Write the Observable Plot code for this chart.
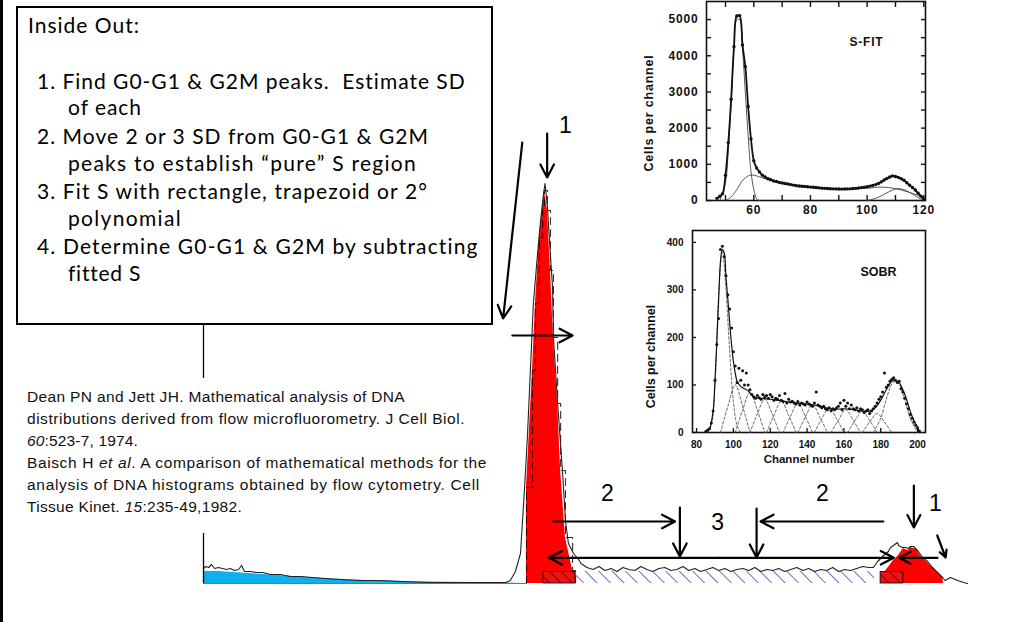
<!DOCTYPE html>
<html><head><meta charset="utf-8">
<script src="https://cdn.jsdelivr.net/npm/d3@7"></script>
<script src="https://cdn.jsdelivr.net/npm/@observablehq/plot@0.6"></script>
<style>
html,body{margin:0;padding:0;background:#fff;}
#root{position:relative;width:1011px;height:622px;overflow:hidden;background:#fff;}
.abs{position:absolute;}
#leftbar{left:0;top:0;width:3px;height:622px;background:#000;}
#box{left:16px;top:6px;width:477px;height:319px;border:2px solid #000;box-sizing:border-box;}
.bl{position:absolute;white-space:pre;font-family:Lato,"Open Sans",sans-serif;font-size:21px;color:#000;line-height:1;}
.cl{position:absolute;white-space:pre;font-family:"Liberation Sans",Arial,sans-serif;font-size:15.5px;color:#111;line-height:1;}
</style></head>
<body>
<div id="root">
  <div id="main" class="abs" style="left:0;top:0"></div>
  <div id="sfit" class="abs" style="left:630px;top:0"></div>
  <div id="sobr" class="abs" style="left:630px;top:225px"></div>
  <div id="leftbar" class="abs"></div>
  <div id="box" class="abs"></div>
  <div id="texts"></div>
</div>
<script>
// ---------- MAIN HISTOGRAM DATA (channel, cells) ----------
const debrisArea = [[0,12],[5,12],[10,11],[15,10],[20,9],[25,8],[30,7],[40,5],[50,3.5],[60,2.5],[75,1.5],[90,1],[102,0.5],[106,0]];
const outline = [[0,15],[0.7,17],[1.7,16],[2.7,19],[3.7,15],[5,16],[6.3,15],[7.7,14],[9,15],[10.3,13],[11.7,14],[12.7,18],[13.7,12],[15.7,12],[17.7,11],[19.7,11],[22.4,9],[25.7,9],[29,7],[32.4,7],[36.4,6],[40.7,5],[45.7,4],[52.4,3],[59,3],[65.8,2],[75.8,1],[85.8,1],[95.8,1],[100.8,1],[102.4,3],[104.1,12],[105.8,30],[107.1,93],[108.1,146],[109.1,213],[110.1,280],[111.5,330],[112.5,363],[113.5,390],[114,400],[114.8,376],[115.2,356],[116.5,296],[116.8,246],[118.2,180],[119.8,113],[120.8,63],[121.8,40],[123.5,30],[125.2,24],[126,20],[128,16],[130,14],[132,17],[134,13],[136,15],[138,12],[140,16],[142,14],[144,13],[146,17],[148,14],[150,12],[152,15],[154,16],[156,13],[158,14],[160,17],[162,13],[164,15],[166,12],[168,14],[170,16],[172,13],[174,15],[176,12],[178,14],[180,15],[182,13],[184,16],[186,12],[188,14],[190,13],[192,15],[194,12],[196,14],[198,16],[200,13],[202,15],[204,12],[206,14],[208,13],[210,16],[212,12],[214,14],[216,13],[218,15],[220,17],[222,16],[223.6,16],[225,22],[227,28],[228.6,32],[229.3,36],[230.3,38],[231.6,41],[232,38],[233.3,36],[234.3,36],[235.3,35],[236,37],[237,37],[238.6,32],[240,26],[241.7,22],[243.3,16],[245,11],[246.7,6],[247.5,3],[249.3,6],[251.7,3],[253.7,1],[255,0]];
const g1Fill = [[107.8,0],[107.8,96],[109.8,213],[110.8,280],[112.1,346],[113.2,376],[113.8,393],[114.8,373],[115.8,313],[116.8,246],[118.2,180],[119.2,113],[120.8,46],[123.2,13],[124.2,1]];
const g2Fill = [[226,0],[226,3],[227,10],[228.6,16],[230.3,23],[232,28],[233.6,35],[234.3,34],[235.3,33],[236,36],[237,35],[238,34],[238.6,31],[240,25],[241.7,21],[243.3,16],[245,11],[246.7,6],[247,0]];
const sRegion = [{x1:124.2, x2:224, y1:0, y2:12}];
const peakBoxes = [{x1:113.5, x2:124.2, y1:0, y2:11.5},{x1:226, x2:233.6, y1:0, y2:11.5}];
const axisSegments = [{y1:0, y2:50},{y1:205, y2:259}];
const arrows = [
  {x1:106.4, y1:441, x2:100.0, y2:265},
  {x1:114.7, y1:450, x2:114.7, y2:406},
  {x1:103.1, y1:248, x2:123.2, y2:248},
  {x1:116.7, y1:62, x2:157.4, y2:62},
  {x1:159.0, y1:76, x2:159.0, y2:27},
  {x1:184.6, y1:75, x2:184.6, y2:26},
  {x1:226.9, y1:62, x2:185.9, y2:62},
  {x1:172.0, y1:25.7, x2:115.3, y2:25.7},
  {x1:172.0, y1:25.7, x2:230.4, y2:25.7},
  {x1:245.0, y1:25.7, x2:232.2, y2:25.7},
  {x1:237.1, y1:98, x2:237.1, y2:56},
  {x1:244.9, y1:48, x2:247.7, y2:26}
];
const stepLabels = [
  {x:120.8, y:458, t:"1"},
  {x:134.8, y:90, t:"2"},
  {x:206.6, y:90, t:"2"},
  {x:171.6, y:61, t:"3"},
  {x:244.3, y:80, t:"1"}
];

// ---------- S-FIT INSET DATA ----------
const sfitObs = [[47,60],[48,120],[49,190],[50,700],[51,1600],[52,2800],[53,4250],[54,5100],[55,5110],[56,4300],[57,3700],[58,2600],[59,1700],[60,1100],[61,900],[62,790],[63,700],[64,650],[65,600],[66,575],[67,540],[68,525],[69,500],[70,485],[71,470],[72,455],[73,440],[74,425],[75,410],[76,400],[77,392],[78,385],[79,378],[80,370],[81,365],[82,358],[83,350],[84,342],[85,336],[86,330],[87,326],[88,322],[89,320],[90,318],[91,315],[92,318],[93,320],[94,322],[95,330],[96,336],[97,345],[98,356],[99,368],[100,380],[101,398],[102,418],[103,440],[104,470],[105,515],[106,565],[107,610],[108,650],[109,680],[110,665],[111,640],[112,600],[113,560],[114,490],[115,420],[116,360],[117,290],[118,200],[119,120],[120,40]];
const sfitG1 = [[48,0],[50,500],[51,1400],[52,2700],[53,4200],[54,5000],[55,5000],[56,4200],[57,3000],[58,1800],[59,800],[60,300],[61,50],[62,0]];
const sfitS = [[50,0],[52,100],[54,300],[56,550],[58,680],[60,700],[62,650],[64,600],[66,560],[70,490],[80,370],[90,318],[100,340],[105,370],[110,330],[115,220],[120,90]];
const sfitG2 = [[100,0],[103,60],[106,170],[109,290],[111,330],[113,300],[116,180],[118,80],[120,10]];
const sfitYLabels = [0,1000,2000,3000,4000,5000];
const sfitYTicks = [0,500,1000,1500,2000,2500,3000,3500,4000,4500,5000];
const sfitXLabels = [60,80,100,120];
const sfitXTicks = [50,60,70,80,90,100,110,120];

// ---------- SOBR INSET DATA ----------
const sobrObs = [[85,2],[86,5],[87,8],[88,20],[89,45],[90,110],[91,185],[92,240],[93,385],[94,392],[95,370],[96,330],[97,290],[98,260],[99,220],[100,170],[101,140],[102,105],[103,135],[104,110],[105,130],[106,100],[107,125],[108,100],[109,90],[110,80],[111,75],[112,72],[113,78],[114,73],[115,70],[116,80],[117,75],[118,78],[119,72],[120,80],[121,75],[122,68],[123,72],[124,70],[125,78],[126,68],[127,65],[128,82],[129,62],[130,70],[131,64],[132,66],[133,62],[134,60],[135,65],[136,58],[137,62],[138,60],[139,58],[140,64],[141,60],[142,58],[143,55],[144,62],[145,85],[146,58],[147,55],[148,52],[149,55],[150,50],[151,48],[152,52],[153,46],[154,50],[155,48],[156,52],[157,55],[158,62],[159,48],[160,68],[161,55],[162,62],[163,50],[164,58],[165,50],[166,48],[167,52],[168,45],[169,50],[170,48],[171,42],[172,45],[173,48],[174,40],[175,45],[176,50],[177,55],[178,62],[179,70],[180,75],[181,85],[182,125],[183,95],[184,100],[185,108],[186,112],[187,115],[188,110],[189,105],[190,108],[191,92],[192,85],[193,72],[194,60],[195,50],[196,38],[197,30],[198,22],[199,15],[200,10],[201,3]];
const sobrFit = [[85,0],[87,8],[89,45],[90,110],[91,190],[92,280],[93,360],[94,385],[95,378],[96,325],[97,280],[98,230],[99,185],[100,150],[101,125],[102,108],[104,97],[106,92],[108,88],[110,78],[112,73],[115,72],[120,70],[125,67],[130,64],[135,62],[140,60],[145,57],[150,52],[155,49],[160,50],[165,48],[170,45],[174,45],[177,52],[180,68],[183,90],[186,108],[188,110],[190,105],[192,90],[194,70],[196,45],[198,25],[200,10],[201,0]];
const sobrComponents = [
  ["g1",[[86,0],[88,15],[90,100],[92,290],[94,383],[96,300],[98,170],[100,65],[102,15],[104,0]]],
  ["s1",[[93,0],[97,55],[101,100],[105,55],[109,0]]],
  ["s2",[[101,0],[105,47],[109,85],[113,47],[117,0]]],
  ["s3",[[109,0],[113,39],[117,70],[121,39],[125,0]]],
  ["s4",[[118,0],[122,36],[126,66],[130,36],[134,0]]],
  ["s5",[[127,0],[131,34],[135,62],[139,34],[143,0]]],
  ["s6",[[135,0],[139,32],[143,58],[147,32],[151,0]]],
  ["s7",[[144,0],[148,29],[152,52],[156,29],[160,0]]],
  ["s8",[[153,0],[157,26],[161,48],[165,26],[169,0]]],
  ["s9",[[162,0],[166,25],[170,45],[174,25],[178,0]]],
  ["s10",[[170,0],[174,22],[178,40],[182,22],[186,0]]],
  ["g2",[[176,0],[180,30],[183,70],[186,102],[188,108],[190,102],[193,70],[196,30],[200,0]]]
];
const sobrYLabels = [0,100,200,300,400];
const sobrXLabels = [80,100,120,140,160,180,200];

const X = d => d[0], Y = d => d[1];
const plain = d => String(d);

// ---------- MAIN PLOT ----------
const main = Plot.plot({
  width: 1011, height: 622,
  marginLeft: 203, marginRight: 41, marginTop: 83, marginBottom: 39,
  x: {domain: [0, 256], axis: null},
  y: {domain: [0, 500], axis: null},
  style: {background: "transparent", overflow: "visible", fontFamily: "'Liberation Sans', Arial, sans-serif"},
  marks: [
    Plot.areaY(debrisArea, {x: X, y: Y, fill: "#0fb0ef"}),
    Plot.rect(sRegion, {x1: "x1", x2: "x2", y1: "y1", y2: "y2", fill: "url(#hatchBlue)"}),
    Plot.areaY(g1Fill, {x: X, y: Y, fill: "#ff0000"}),
    Plot.areaY(g2Fill, {x: X, y: Y, fill: "#ff0000"}),
    Plot.line(g1Fill, {x: X, y: Y, curve: "step-after", stroke: "#200", strokeWidth: 1.1, strokeDasharray: "7,5", strokeOpacity: 0.85}),
    Plot.rect(peakBoxes, {x1: "x1", x2: "x2", y1: "y1", y2: "y2", fill: "url(#hatchRed)", stroke: "#111", strokeWidth: 0.9}),
    Plot.ruleY([0], {x1: 0, x2: 108, stroke: "#3a8c9c", strokeWidth: 1.2}),
    Plot.line(outline, {x: X, y: Y, stroke: "#222", strokeWidth: 1.1}),
    Plot.ruleX(axisSegments, {x: 0, y1: "y1", y2: "y2", stroke: "#000", strokeWidth: 1.3}),
    Plot.arrow(arrows, {x1: "x1", y1: "y1", x2: "x2", y2: "y2", stroke: "#000", strokeWidth: 2.2, headLength: 10, headAngle: 55}),
    Plot.text(stepLabels, {x: "x", y: "y", text: "t", fontSize: 23, fill: "#000"})
  ]
});
document.getElementById("main").appendChild(main);
const defs = document.createElementNS("http://www.w3.org/2000/svg", "defs");
defs.innerHTML = `
<pattern id="hatchBlue" patternUnits="userSpaceOnUse" width="9.5" height="9.5" patternTransform="rotate(-45)">
  <rect width="9.5" height="9.5" fill="#fff"/>
  <line x1="0" y1="0" x2="0" y2="9.5" stroke="#4a4ad0" stroke-width="1.6"/>
</pattern>
<pattern id="hatchRed" patternUnits="userSpaceOnUse" width="8" height="8" patternTransform="rotate(-45)">
  <rect width="8" height="8" fill="#ee1111"/>
  <line x1="0" y1="0" x2="0" y2="8" stroke="#6a0000" stroke-width="1.6"/>
</pattern>`;
main.insertBefore(defs, main.firstChild);

// ---------- S-FIT ----------
const insetStyle = {background: "transparent", overflow: "visible", fontFamily: "'Liberation Sans', Arial, sans-serif", fontWeight: "bold", color: "#111"};
const sfit = Plot.plot({
  width: 300, height: 220, marginLeft: 76, marginRight: 5, marginTop: 1, marginBottom: 20,
  x: {domain: [43.3, 120.6]}, y: {domain: [0, 5500]},
  style: {...insetStyle, fontSize: "12px", letterSpacing: "0.8px"},
  marks: [
    Plot.axisY(sfitYLabels, {anchor: "left", tickSize: 0, tickPadding: 8, label: null, fontSize: 12, tickFormat: plain}),
    Plot.axisY(sfitYTicks, {anchor: "left", tickSize: -5, tickFormat: () => "", label: null, strokeWidth: 1.4}),
    Plot.axisY(sfitYTicks, {anchor: "right", tickSize: -5, tickFormat: () => "", label: null, strokeWidth: 1.4}),
    Plot.axisX(sfitXLabels, {anchor: "bottom", tickSize: 0, tickPadding: 5, label: null, fontSize: 12, tickFormat: plain}),
    Plot.axisX(sfitXTicks, {anchor: "bottom", tickSize: -5, tickFormat: () => "", label: null, strokeWidth: 1.4}),
    Plot.axisX(sfitXTicks, {anchor: "top", tickSize: -5, tickFormat: () => "", label: null, strokeWidth: 1.4}),
    Plot.frame({stroke: "#111", strokeWidth: 1.6}),
    Plot.line(sfitG1, {x: X, y: Y, stroke: "#444", strokeWidth: 0.9, curve: "catmull-rom"}),
    Plot.line(sfitS, {x: X, y: Y, stroke: "#444", strokeWidth: 0.9, curve: "catmull-rom"}),
    Plot.line(sfitG2, {x: X, y: Y, stroke: "#444", strokeWidth: 0.9, curve: "catmull-rom"}),
    Plot.line(sfitObs, {x: X, y: Y, stroke: "#111", strokeWidth: 1.8, curve: "catmull-rom"}),
    Plot.dot(sfitObs, {x: X, y: Y, r: 1.7, fill: "#111"}),
    Plot.text(["S-FIT"], {frameAnchor: "top-right", dx: -59, dy: 36, fontSize: 12, fontWeight: "bold", fill: "#111", textAnchor: "middle"}),
    Plot.text(["Cells per channel"], {frameAnchor: "left", dx: -58, dy: 12, rotate: -90, textAnchor: "middle", fontSize: 12.5, fontWeight: "bold", fill: "#111"})
  ]
});
document.getElementById("sfit").appendChild(sfit);

// ---------- SOBR ----------
const sobr = Plot.plot({
  width: 300, height: 250, marginLeft: 62, marginRight: 5, marginTop: 5, marginBottom: 43,
  x: {domain: [77.8, 204.3]}, y: {domain: [0, 425]},
  style: {...insetStyle, fontSize: "10px"},
  marks: [
    Plot.axisY(sobrYLabels, {anchor: "left", tickSize: 0, tickPadding: 9, label: null, fontSize: 10, tickFormat: plain}),
    Plot.axisY(sobrYLabels, {anchor: "left", tickSize: -4, tickFormat: () => "", label: null, strokeWidth: 1.3}),
    Plot.axisX(sobrXLabels, {anchor: "bottom", tickSize: 0, tickPadding: 8, label: null, fontSize: 10, tickFormat: plain}),
    Plot.axisX(sobrXLabels, {anchor: "bottom", tickSize: -4, tickFormat: () => "", label: null, strokeWidth: 1.3}),
    Plot.frame({stroke: "#111", strokeWidth: 1.6}),
    sobrComponents.map(([id, pts]) => Plot.line(pts, {x: X, y: Y, stroke: "#555", strokeWidth: 0.9, strokeDasharray: "2.5,2", curve: "catmull-rom"})),
    Plot.line(sobrFit, {x: X, y: Y, stroke: "#111", strokeWidth: 1.2, curve: "catmull-rom"}),
    Plot.dot(sobrObs, {x: X, y: Y, r: 1.5, fill: "#111"}),
    Plot.text(["SOBR"], {frameAnchor: "top-right", dx: -47, dy: 37, fontSize: 12.5, fontWeight: "bold", fill: "#111", textAnchor: "middle"}),
    Plot.text(["Cells per channel"], {frameAnchor: "left", dx: -42, dy: 25, rotate: -90, textAnchor: "middle", fontSize: 12.5, fontWeight: "bold", fill: "#111"}),
    Plot.text(["Channel number"], {frameAnchor: "bottom", dy: 30, fontSize: 11.5, fontWeight: "bold", fill: "#111"})
  ]
});
document.getElementById("sobr").appendChild(sobr);

// ---------- TEXT BLOCKS ----------
const texts = document.getElementById("texts");
const boxLines = [
  ["Inside Out:", 28, 25, 140],
  ["1. Find G0-G1 & G2M peaks.  Estimate SD", 37, 81, 466],
  ["of each", 68, 107, 142],
  ["2. Move 2 or 3 SD from G0-G1 & G2M", 37, 136, 429],
  ["peaks to establish \u201cpure\u201d S region", 68, 163, 417],
  ["3. Fit S with rectangle, trapezoid or 2\u00b0", 37, 191, 428],
  ["polynomial", 68, 218, 182],
  ["4. Determine G0-G1 & G2M by subtracting", 37, 246, 479],
  ["fitted S", 68, 273, 140]
];
const citeLines = [
  ["Dean PN and Jett JH. Mathematical analysis of DNA", 27, 397, 405],
  ["distributions derived from flow microfluorometry. J Cell Biol.", 27, 419, 465],
  ["<i>60</i>:523-7, 1974.", 27, 441, 138],
  ["Baisch H <i>et al</i>. A comparison of mathematical methods for the", 27, 463, 487],
  ["analysis of DNA histograms obtained by flow cytometry. Cell", 27, 485, 480],
  ["Tissue Kinet. <i>15</i>:235-49,1982.", 27, 507, 242]
];
function place(lines, cls, F, k) {
  for (const [t, x, cy, xe] of lines) {
    const el = document.createElement("span");
    el.className = cls;
    el.innerHTML = t.replace(/&(?!amp;)/g, "&amp;");
    el.style.left = x + "px";
    el.style.top = (cy - k * F) + "px";
    texts.appendChild(el);
    const w = el.getBoundingClientRect().width;
    const n = [...el.textContent].length;
    el.style.letterSpacing = ((xe - x - w) / n).toFixed(3) + "px";
  }
}
place(boxLines, "bl", 21, 0.53);
place(citeLines, "cl", 15.5, 0.49);
</script>
</body></html>
